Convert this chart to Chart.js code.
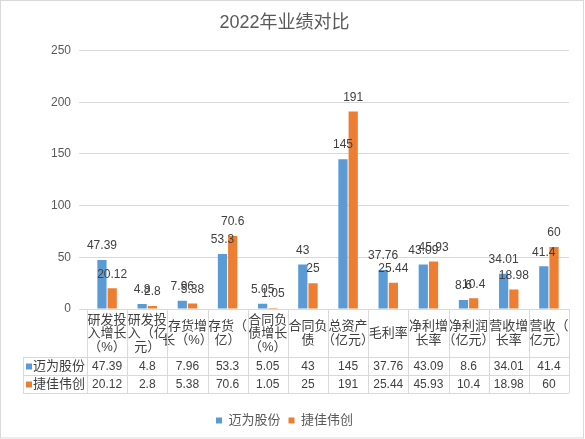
<!DOCTYPE html>
<html>
<head>
<meta charset="utf-8">
<script src="https://cdn.jsdelivr.net/npm/chart.js@4/dist/chart.umd.min.js"></script>
<style>
  body { margin: 0; background: #fff; }
  #wrap { width: 585px; height: 439px; }
</style>
</head>
<body>
<div id="wrap"><canvas id="perfChart" width="585" height="439"></canvas></div>
<script>
const FONT = "'Liberation Sans', 'Noto Sans CJK SC', sans-serif";
const TEXT = '#595959';
const LINE = '#D9D9D9';

// categories (header row of the data table, wrapped as in the original)
const categories = [
  ['研发投', '入增长', '（%）'],
  ['研发投', '入（亿', '元）'],
  ['存货增', '长（%）'],
  ['存货（', '亿）'],
  ['合同负', '债增长', '（%）'],
  ['合同负', '债'],
  ['总资产', '（亿元）'],
  ['毛利率'],
  ['净利增', '长率'],
  ['净利润', '（亿元）'],
  ['营收增', '长率'],
  ['营收（', '亿元）']
];
const seriesNames = ['迈为股份', '捷佳伟创'];
const maiwei = [47.39, 4.8, 7.96, 53.3, 5.05, 43, 145, 37.76, 43.09, 8.6, 34.01, 41.4];
const jiejia = [20.12, 2.8, 5.38, 70.6, 1.05, 25, 191, 25.44, 45.93, 10.4, 18.98, 60];
const yTicks = [0, 50, 100, 150, 200, 250];
const colors = ['#5B9BD5', '#ED7D31'];

// value labels above bars + the data table under the plot
const tablePlugin = {
  id: 'tablePlugin',
  afterDraw(chart) {
    const ctx = chart.ctx;
    const x = chart.scales.x;
    const area = chart.chartArea;
    ctx.save();

    // labels on bars
    ctx.font = '12px ' + FONT;
    ctx.fillStyle = '#404040';
    ctx.textAlign = 'center';
    ctx.textBaseline = 'bottom';
    chart.data.datasets.forEach((ds, di) => {
      chart.getDatasetMeta(di).data.forEach((bar, i) => {
        ctx.fillText(String(ds.data[i]), bar.x, bar.y - 8);
      });
    });

    // table grid
    const n = categories.length;
    const top = area.bottom;
    const rowH = 18;
    const headH = 48;
    const r1 = top + headH, r2 = r1 + rowH, r3 = r2 + rowH;
    const tableLeft = 23;
    ctx.strokeStyle = LINE;
    ctx.lineWidth = 1;
    ctx.beginPath();
    for (let i = 0; i <= n; i++) {
      let px;
      if (i === 0) px = area.left;
      else if (i === n) px = area.right;
      else px = (x.getPixelForValue(i - 1) + x.getPixelForValue(i)) / 2;
      px = Math.round(px) + 0.5;
      ctx.moveTo(px, top); ctx.lineTo(px, r3);
    }
    [r1, r2, r3].forEach(y => {
      ctx.moveTo(tableLeft, Math.round(y) + 0.5);
      ctx.lineTo(area.right, Math.round(y) + 0.5);
    });
    ctx.moveTo(tableLeft + 0.5, r1); ctx.lineTo(tableLeft + 0.5, r3);
    ctx.stroke();

    // rows
    const rows = [maiwei, jiejia];
    ctx.textBaseline = 'middle';
    rows.forEach((vals, ri) => {
      const cy = r1 + rowH * ri + rowH / 2 + 0.5;
      ctx.font = '12px ' + FONT;
      ctx.fillStyle = '#404040';
      ctx.textAlign = 'center';
      vals.forEach((v, i) => ctx.fillText(String(v), x.getPixelForValue(i), cy));
      ctx.fillStyle = colors[ri];
      ctx.fillRect(tableLeft + 3, cy - 3, 6, 6);
      ctx.font = '13px ' + FONT;
      ctx.fillStyle = '#404040';
      ctx.textAlign = 'left';
      ctx.fillText(seriesNames[ri], tableLeft + 10, cy);
    });

    // outer border
    ctx.strokeStyle = LINE;
    ctx.strokeRect(0.5, 0.5, chart.width - 2, chart.height - 1.5);
    ctx.restore();
  }
};

new Chart(document.getElementById('perfChart'), {
  type: 'bar',
  data: {
    labels: categories,
    datasets: [
      { label: seriesNames[0], data: maiwei, backgroundColor: colors[0] },
      { label: seriesNames[1], data: jiejia, backgroundColor: colors[1] }
    ]
  },
  options: {
    responsive: false,
    animation: false,
    layout: { padding: { left: 0, right: 16, top: 0, bottom: 2 } },
    datasets: { bar: { categoryPercentage: 0.51, barPercentage: 0.9 } },
    plugins: {
      title: {
        display: true,
        text: '2022年业绩对比',
        color: TEXT,
        font: { family: FONT, size: 18, weight: 'normal' },
        padding: { top: 12, bottom: 17 }
      },
      legend: {
        position: 'bottom',
        labels: {
          color: TEXT,
          font: { family: FONT, size: 13 },
          boxWidth: 6, boxHeight: 6,
          padding: 8
        }
      },
      tooltip: { enabled: false }
    },
    scales: {
      x: {
        grid: { display: false },
        border: { display: true, color: LINE },
        ticks: {
          color: '#404040',
          font: { family: FONT, size: 13, lineHeight: 1.05 },
          maxRotation: 0, autoSkip: false,
          crossAlign: 'center',
          padding: 3
        },
        afterFit(scale) { scale.height = 97; }
      },
      y: {
        min: 0, max: 250,
        afterBuildTicks(scale) { scale.ticks = yTicks.map(v => ({ value: v })); },
        grid: { color: LINE },
        border: { display: false },
        ticks: { color: TEXT, font: { family: FONT, size: 12 }, padding: 8 },
        afterFit(scale) { scale.width = 87; }
      }
    }
  },
  plugins: [tablePlugin]
});
</script>
</body>
</html>
